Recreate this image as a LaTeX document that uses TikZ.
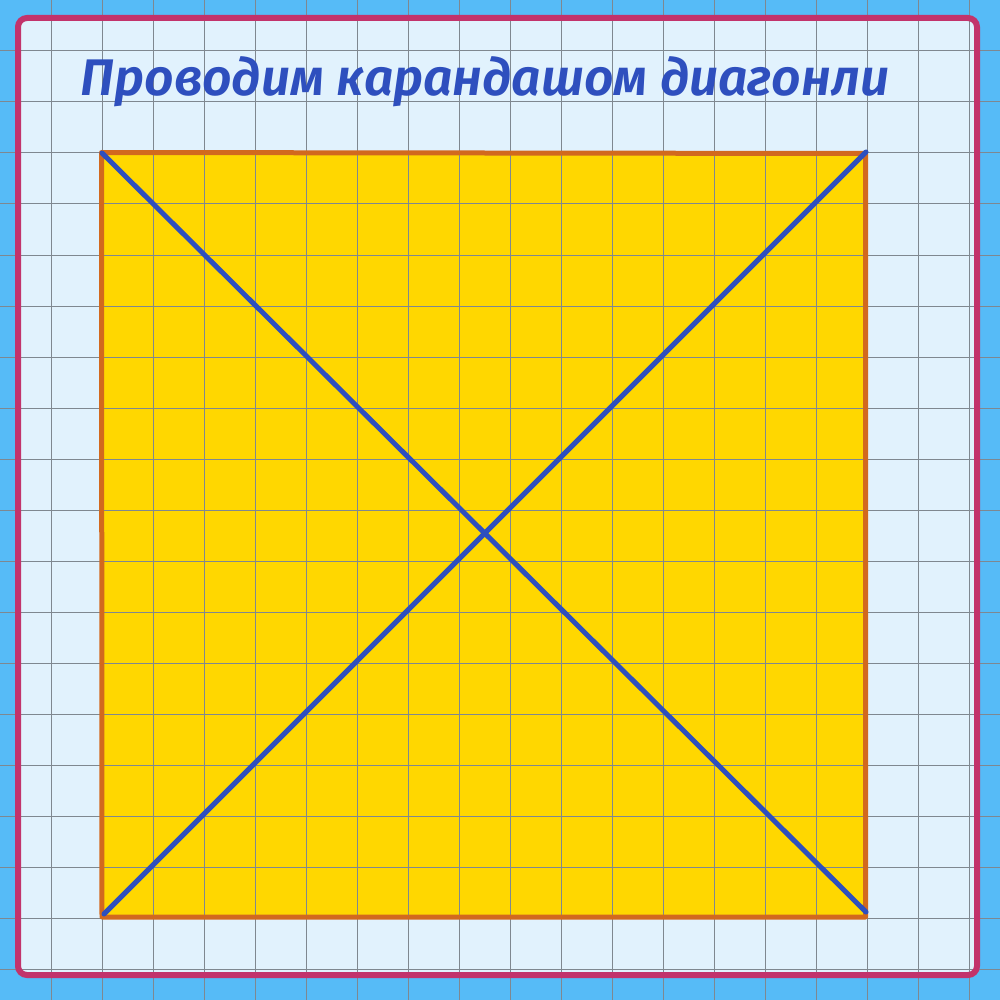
\documentclass[tikz,border=0pt]{standalone}
\usepackage{fontspec}
\newfontfamily\titlefont{Fira Sans}[UprightFont={* SemiBold},ItalicFont={* SemiBold Italic}]
\definecolor{outerblue}{HTML}{56BBF7}
\definecolor{paper}{HTML}{E1F2FD}
\definecolor{gridgrey}{HTML}{7F8890}
\definecolor{framepink}{HTML}{C2336B}
\definecolor{sqfill}{HTML}{FFD700}
\definecolor{sqedge}{HTML}{D2691E}
\definecolor{diagblue}{HTML}{2E4FBE}
\begin{document}
\begin{tikzpicture}[x=1pt,y=-1pt,
  gridline/.style={draw=gridgrey,line width=1pt},
  framebox/.style={draw=framepink,line width=6pt,rounded corners=9pt},
  square/.style={draw=sqedge,line width=5pt,line join=round},
  diag/.style={draw=diagblue,line width=5pt,line cap=round},
  titletext/.style={text=diagblue,font=\titlefont\itshape\fontsize{51.5}{60}\selectfont,inner sep=0pt}]
\useasboundingbox (0,0) rectangle (1000,1000);
\fill[outerblue] (0,0) rectangle (1000,1000);
\fill[paper,rounded corners=9pt] (18,18) rectangle (977,975);
% square fill
\coordinate (A) at (101.5,152.5);
\coordinate (B) at (865.5,153.5);
\coordinate (C) at (865.5,917);
\coordinate (D) at (102,917);
\fill[sqfill] (A) -- (B) -- (C) -- (D) -- cycle;
% grid
\foreach \i in {1,...,19} {
  \draw[gridline] (51*\i,0) -- (51*\i,1000);
  \draw[gridline] (0,51*\i) -- (1000,51*\i);
}
\draw[framebox] (18,18) rectangle (977,975);
\draw[square] (A) -- (B) -- (C) -- (D) -- cycle;
\coordinate (d1s) at (102,153);
\coordinate (d1e) at (866,912);
\coordinate (d2s) at (104,914);
\coordinate (d2e) at (866,152);
\draw[diag] (d1s) -- (d1e);
\draw[diag] (d2s) -- (d2e);
\node[titletext,anchor=base] (title) at (485,96) {Проводим карандашом диагонли};
\end{tikzpicture}
\end{document}
